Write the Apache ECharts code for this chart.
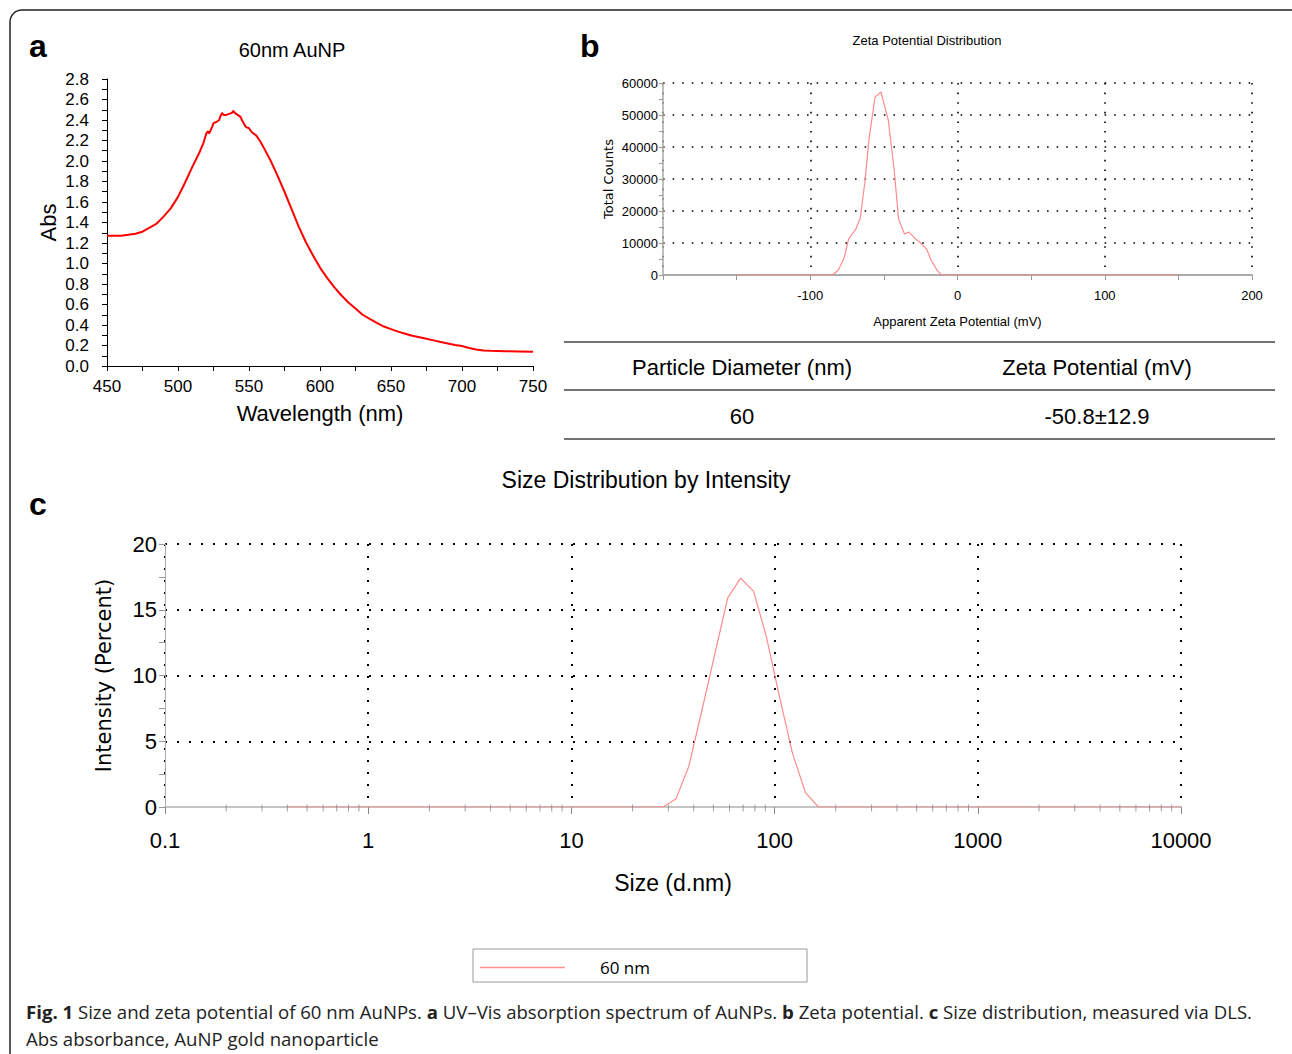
<!DOCTYPE html>
<html>
<head>
<meta charset="utf-8">
<script src="https://cdn.jsdelivr.net/npm/echarts@6/dist/echarts.min.js"></script>
<style>
  html, body { margin: 0; padding: 0; background: #fff; }
  #main { width: 1292px; height: 1054px; }
</style>
</head>
<body>
<div id="main"></div>
<script>
// a: UV-Vis spectrum
var waveNm = [450, 455, 460, 465, 470, 475, 480, 485, 490, 495, 500, 505, 510, 515, 518, 520, 521, 522, 524, 525, 527, 529, 530, 531, 532, 534, 536, 538, 539, 540, 542, 544, 545, 547, 548, 550, 552, 555, 558, 560, 565, 570, 575, 580, 585, 590, 595, 600, 605, 610, 615, 620, 625, 630, 635, 640, 645, 650, 655, 660, 665, 670, 675, 680, 685, 690, 695, 700, 705, 710, 715, 720, 730, 740, 750];
var absVal = [1.27, 1.27, 1.27, 1.28, 1.29, 1.31, 1.35, 1.39, 1.46, 1.54, 1.65, 1.79, 1.94, 2.08, 2.18, 2.27, 2.29, 2.27, 2.33, 2.37, 2.38, 2.40, 2.44, 2.47, 2.45, 2.45, 2.46, 2.47, 2.49, 2.47, 2.45, 2.43, 2.40, 2.35, 2.33, 2.32, 2.28, 2.25, 2.19, 2.14, 2.01, 1.86, 1.70, 1.53, 1.36, 1.21, 1.08, 0.96, 0.86, 0.77, 0.69, 0.62, 0.56, 0.50, 0.46, 0.42, 0.385, 0.36, 0.335, 0.315, 0.295, 0.28, 0.265, 0.25, 0.235, 0.22, 0.205, 0.195, 0.175, 0.16, 0.152, 0.148, 0.145, 0.142, 0.138];

// b: zeta potential distribution
var zetaMv = [-150, -85, -81, -77, -74, -69, -66, -63, -60, -56, -52, -47, -43, -40, -36, -33, -29, -25, -21, -18, -14, -11, 150];
var zetaCounts = [0, 0, 1500, 5300, 11200, 14400, 17800, 28700, 42800, 55600, 57200, 48400, 32800, 17500, 12800, 13400, 11500, 10000, 8100, 4700, 1600, 0, 0];

// table
var tableHead = ['Particle Diameter (nm)', 'Zeta Potential (mV)'];
var tableRow = ['60', '-50.8\u00b112.9'];

// c: size distribution by intensity
var sizeNm = [0.4, 28.21, 32.67, 37.84, 43.82, 50.75, 58.77, 68.06, 78.82, 91.28, 105.7, 122.4, 141.8, 164.2, 10000];
var intensityPct = [0, 0, 0.6, 3.1, 7.3, 11.6, 15.9, 17.4, 16.4, 12.9, 8.4, 4.1, 1.1, 0, 0];
var sizeLegend = '60 nm';

// log axis minor ticks 2..9 per decade
var sizeMinor = [];
[0.1, 1, 10, 100, 1000].forEach(function (d) {
    for (var k = 2; k <= 9; k++) sizeMinor.push([+(d * k).toPrecision(3), 0]);
});

function pairs(xs, ys) {
    return xs.map(function (x, i) { return [x, ys[i]]; });
}

var arial = "'Liberation Sans', Arial, sans-serif";
var dotted = { color: '#000', width: 1.6, type: [1.6, 8] };

var option = {
    animation: false,
    backgroundColor: '#fff',
    textStyle: { fontFamily: arial, color: '#000' },
    grid: [
        { left: 107, top: 79, width: 426, height: 287 },
        { left: 663, top: 83, width: 589, height: 192 },
        { left: 165, top: 544, width: 1016, height: 263 }
    ],
    legend: {
        data: [sizeLegend],
        left: 473, top: 949,
        padding: [10, 157, 6, 7],
        borderColor: '#999', borderWidth: 1,
        icon: 'rect', itemWidth: 85, itemHeight: 1.5,
        itemStyle: { color: '#ff9090' },
        textStyle: { fontFamily: "'Open Sans', sans-serif", fontSize: 17, color: '#000', padding: [11, 0, 0, 30] }
    },
    xAxis: [
        {
            gridIndex: 0, type: 'value', min: 450, max: 750, interval: 50,
            axisLine: { lineStyle: { color: '#000', width: 1 } },
            axisTick: { length: 5, lineStyle: { color: '#000' } },
            minorTick: { show: true, splitNumber: 2, length: 5, lineStyle: { color: '#000' } },
            splitLine: { show: false },
            axisLabel: { fontSize: 17, color: '#000', margin: 12 },
            name: 'Wavelength (nm)', nameLocation: 'middle', nameGap: 36,
            nameTextStyle: { fontSize: 22, color: '#000' }
        },
        {
            gridIndex: 1, type: 'value', min: -200, max: 200, interval: 100,
            axisLine: { onZero: false, lineStyle: { color: '#aaa', width: 2 } },
            axisTick: { length: 5, lineStyle: { color: '#999' } },
            minorTick: { show: true, splitNumber: 2, length: 5, lineStyle: { color: '#999' } },
            splitLine: { show: true, lineStyle: dotted },
            axisLabel: {
                fontSize: 13, color: '#000', margin: 14,
                formatter: function (v) { return v === -200 ? '' : String(v); }
            },
            name: 'Apparent Zeta Potential (mV)', nameLocation: 'middle', nameGap: 40,
            nameTextStyle: { fontSize: 13, color: '#000' }
        },
        {
            gridIndex: 2, type: 'log', logBase: 10, min: 0.1, max: 10000,
            axisLine: { lineStyle: { color: '#c4c4c4', width: 2 } },
            axisTick: { length: 7, lineStyle: { color: '#888' } },
            splitLine: { show: true, lineStyle: { color: '#000', width: 2, type: [2, 10] } },
            axisLabel: {
                fontSize: 22, color: '#000', margin: 22,
                formatter: function (v) { return v < 1 ? v.toFixed(1) : String(Math.round(v)); }
            },
            name: 'Size (d.nm)', nameLocation: 'middle', nameGap: 64,
            nameTextStyle: { fontSize: 23, color: '#000' }
        }
    ],
    yAxis: [
        {
            gridIndex: 0, type: 'value', min: 0, max: 2.8, interval: 0.2,
            axisLine: { show: true, lineStyle: { color: '#000', width: 1 } },
            axisTick: { show: true, length: 5, lineStyle: { color: '#000' } },
            minorTick: { show: true, splitNumber: 2, length: 5, lineStyle: { color: '#000' } },
            splitLine: { show: false },
            axisLabel: { fontSize: 17, color: '#000', margin: 18, formatter: function (v) { return v.toFixed(1); } },
            name: 'Abs', nameLocation: 'middle', nameGap: 48,
            nameTextStyle: { fontSize: 22, color: '#000' }
        },
        {
            gridIndex: 1, type: 'value', min: 0, max: 60000, interval: 10000,
            axisLine: { show: true, onZero: false, lineStyle: { color: '#aaa', width: 1.5 } },
            axisTick: { show: true, length: 4, lineStyle: { color: '#999' } },
            minorTick: { show: true, splitNumber: 2, length: 4, lineStyle: { color: '#999' } },
            splitLine: { show: true, lineStyle: dotted },
            axisLabel: { fontSize: 13, color: '#000', margin: 5, formatter: function (v) { return String(v); } },
            name: 'Total Counts', nameLocation: 'middle', nameGap: 48,
            nameTextStyle: { fontSize: 13, fontFamily: "'DejaVu Sans', sans-serif", color: '#000' }
        },
        {
            gridIndex: 2, type: 'value', min: 0, max: 20, interval: 5,
            axisLine: { show: true, onZero: false, lineStyle: { color: '#aaa', width: 1 } },
            axisTick: { show: true, length: 6, lineStyle: { color: '#999' } },
            minorTick: { show: true, splitNumber: 2, length: 6, lineStyle: { color: '#999' } },
            splitLine: { show: true, lineStyle: { color: '#000', width: 2, type: [2, 10] } },
            axisLabel: { fontSize: 22, color: '#000', margin: 8 },
            name: 'Intensity (Percent)', nameLocation: 'middle', nameGap: 51,
            nameTextStyle: { fontSize: 21, fontFamily: "'DejaVu Sans', sans-serif", color: '#000' }
        }
    ],
    series: [
        {
            type: 'line', xAxisIndex: 0, yAxisIndex: 0, symbol: 'none',
            lineStyle: { color: '#ff0000', width: 2 },
            data: pairs(waveNm, absVal)
        },
        {
            type: 'line', xAxisIndex: 1, yAxisIndex: 1, symbol: 'none',
            lineStyle: { color: '#ff8c8c', width: 1.2 },
            itemStyle: { color: '#ff8c8c' },
            data: pairs(zetaMv, zetaCounts)
        },
        {
            name: sizeLegend, type: 'line', xAxisIndex: 2, yAxisIndex: 2, symbol: 'none',
            lineStyle: { color: '#ff8c8c', width: 1.2 },
            itemStyle: { color: '#ff9090' },
            data: pairs(sizeNm, intensityPct)
        },
        {
            type: 'scatter', xAxisIndex: 2, yAxisIndex: 2, silent: true,
            symbol: 'rect', symbolSize: [1, 7], symbolOffset: [0, 1],
            itemStyle: { color: '#888' }, z: 5,
            data: sizeMinor
        }
    ],
    graphic: [
        {
            type: 'rect', silent: true,
            shape: { x: 10, y: 10, width: 1300, height: 1100, r: 12 },
            style: { fill: 'none', stroke: '#222', lineWidth: 1.5 }
        },
        { type: 'text', left: 29, top: 30, style: { text: 'a', font: "bold 32px 'Liberation Sans', Arial, sans-serif", fill: '#000' } },
        { type: 'text', left: 580, top: 30, style: { text: 'b', font: "bold 32px 'Liberation Sans', Arial, sans-serif", fill: '#000' } },
        { type: 'text', left: 29, top: 488, style: { text: 'c', font: "bold 32px 'Liberation Sans', Arial, sans-serif", fill: '#000' } },
        { type: 'text', x: 292, y: 50, style: { text: '60nm AuNP', font: "20px 'Liberation Sans', Arial, sans-serif", fill: '#000', textAlign: 'center', textVerticalAlign: 'middle' } },
        { type: 'text', x: 927, y: 40, style: { text: 'Zeta Potential Distribution', font: "13px 'Liberation Sans', Arial, sans-serif", fill: '#000', textAlign: 'center', textVerticalAlign: 'middle' } },
        { type: 'text', x: 646, y: 480, style: { text: 'Size Distribution by Intensity', font: "23px 'Liberation Sans', Arial, sans-serif", fill: '#000', textAlign: 'center', textVerticalAlign: 'middle' } },
        // table
        { type: 'line', shape: { x1: 564, y1: 342, x2: 1275, y2: 342 }, style: { stroke: '#444', lineWidth: 1.5 } },
        { type: 'line', shape: { x1: 564, y1: 390, x2: 1275, y2: 390 }, style: { stroke: '#444', lineWidth: 1.5 } },
        { type: 'line', shape: { x1: 564, y1: 439, x2: 1275, y2: 439 }, style: { stroke: '#444', lineWidth: 1.5 } },
        { type: 'text', x: 742, y: 367, style: { text: tableHead[0], font: "22px 'Liberation Sans', Arial, sans-serif", fill: '#000', textAlign: 'center', textVerticalAlign: 'middle' } },
        { type: 'text', x: 1097, y: 367, style: { text: tableHead[1], font: "22px 'Liberation Sans', Arial, sans-serif", fill: '#000', textAlign: 'center', textVerticalAlign: 'middle' } },
        { type: 'text', x: 742, y: 416, style: { text: tableRow[0], font: "22px 'Liberation Sans', Arial, sans-serif", fill: '#000', textAlign: 'center', textVerticalAlign: 'middle' } },
        { type: 'text', x: 1097, y: 416, style: { text: tableRow[1], font: "22px 'Liberation Sans', Arial, sans-serif", fill: '#000', textAlign: 'center', textVerticalAlign: 'middle' } },
        // caption
        {
            type: 'text', x: 26, y: 1011,
            style: {
                text: '{b|Fig. 1} Size and zeta potential of 60 nm AuNPs. {b|a} UV\u2013Vis absorption spectrum of AuNPs. {b|b} Zeta potential. {b|c} Size distribution, measured via DLS.',
                font: "18.6px 'Open Sans', sans-serif", fill: '#222', textVerticalAlign: 'middle',
                rich: { b: { fontWeight: 'bold', fontFamily: "'Open Sans', sans-serif", fontSize: 18.6, fill: '#222' } }
            }
        },
        {
            type: 'text', x: 26, y: 1038,
            style: { text: 'Abs absorbance, AuNP gold nanoparticle', font: "18.6px 'Open Sans', sans-serif", fill: '#222', textVerticalAlign: 'middle' }
        }
    ]
};

var chart = echarts.init(document.getElementById('main'), null, { renderer: 'svg' });
chart.setOption(option);
</script>
</body>
</html>
